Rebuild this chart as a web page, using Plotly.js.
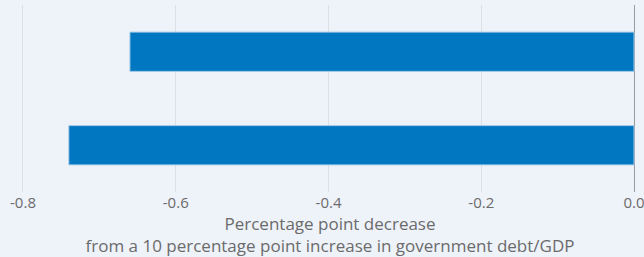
<!DOCTYPE html>
<html>
<head>
<meta charset="utf-8">
<script src="https://cdn.plot.ly/plotly-3.0.1.min.js"></script>
<style>html,body{margin:0;padding:0;background:#eef2f9;overflow:hidden;}#chart{width:660px;height:257px;}</style>
</head>
<body>
<div id="chart"></div>
<script>
const categories = ["Group A", "Group B"];
const values = [-0.66, -0.74];
const xTickVals = [-0.8, -0.6, -0.4, -0.2, 0];
const xTickText = ["-0.8", "-0.6", "-0.4", "-0.2", "0.0"];
const xTitle = "Percentage point decrease<br>from a 10 percentage point increase in government debt/GDP";

const trace = {
  type: "bar",
  orientation: "h",
  y: categories,
  x: values,
  marker: {color: "#0077c0", line: {color: "#a8cdea", width: 1}},
  hoverinfo: "none"
};

const layout = {
  width: 660, height: 257,
  margin: {l: 0, r: 0, t: 5, b: 65},
  paper_bgcolor: "#eef2f9",
  plot_bgcolor: "#eef2f9",
  font: {family: "'Open Sans', sans-serif", size: 15, color: "#6b6b6b"},
  showlegend: false,
  bargap: 0.58,
  xaxis: {
    range: [-0.8301, 0.034],
    tickvals: xTickVals,
    ticktext: xTickText,
    ticklabeloverflow: "allow",
    showgrid: true,
    gridcolor: "#dcdfe4",
    zeroline: true,
    zerolinecolor: "#9a9a9a",
    zerolinewidth: 1,
    title: {text: xTitle, font: {size: 17, color: "#6b6b6b"}, standoff: 8},
    ticks: "",
    tickfont: {size: 15, color: "#6b6b6b"}
  },
  yaxis: {
    autorange: "reversed",
    showticklabels: false,
    showgrid: false,
    zeroline: false,
    ticks: ""
  }
};

Plotly.newPlot("chart", [trace], layout, {displayModeBar: false, staticPlot: true});
</script>
</body>
</html>
